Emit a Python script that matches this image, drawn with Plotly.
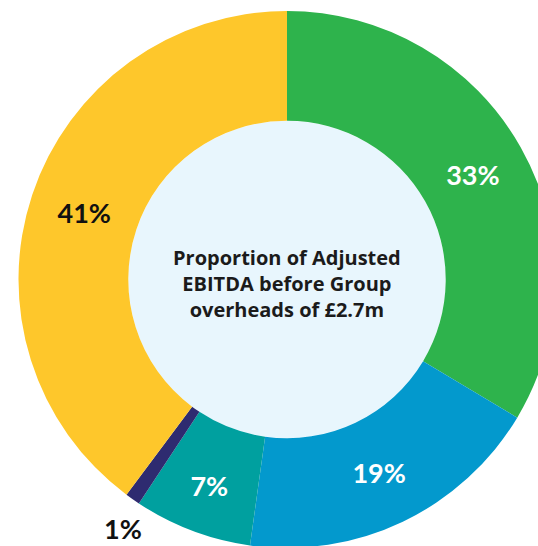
import math
import plotly.graph_objects as go

# Data (clockwise from 12 o'clock)
segments = ["Segment A", "Segment B", "Segment C", "Segment D", "Segment E"]
shares = [33.6, 18.6, 7.1, 0.9, 39.8]
share_labels = ["33%", "19%", "7%", "1%", "41%"]
colors = ["#2EB34C", "#0399CD", "#00A09F", "#2E2B70", "#FEC72B"]
label_colors = ["#FFFFFF", "#FFFFFF", "#FFFFFF", "#111111", "#111111"]
label_positions = ["inside", "inside", "inside", "none", "inside"]
center_text = "Proportion of Adjusted<br>EBITDA before Group<br>overheads of £2.7m"

W, H = 574, 559
R_OUT, R_IN = 268.5, 158.7
LABEL_FONT = "Lato"

fig = go.Figure(
    go.Pie(
        labels=segments,
        values=shares,
        text=share_labels,
        texttemplate="%{text}",
        textposition=label_positions,
        insidetextorientation="horizontal",
        textfont=dict(family=LABEL_FONT, size=27, color=label_colors, weight="bold"),
        marker=dict(colors=colors, line=dict(width=0)),
        hole=R_IN / R_OUT,
        sort=False,
        direction="clockwise",
        rotation=0,
        showlegend=False,
        hoverinfo="label+percent",
        domain=dict(x=[0.5 - R_OUT / W, 0.5 + R_OUT / W],
                    y=[0.5 - R_OUT / H, 0.5 + R_OUT / H]),
    )
)

# outside label for the thin slice, placed along the slice's mid angle
total = sum(shares)
cum = 0.0
for v, lab, pos, col in zip(shares, share_labels, label_positions, label_colors):
    if pos == "none":
        frac = (cum + v / 2) / total
        theta = 2 * math.pi * frac - 0.03
        d = R_OUT * 1.11
        fig.add_annotation(
            x=0.5 + d * math.sin(theta) / W,
            y=0.5 + d * math.cos(theta) / H,
            xref="paper", yref="paper", text=lab, showarrow=False,
            font=dict(family=LABEL_FONT, size=27, color=col, weight="bold"),
            xanchor="center", yanchor="middle",
        )
    cum += v

fig.add_shape(
    type="circle", xref="paper", yref="paper",
    x0=0.5 - R_IN / W, x1=0.5 + R_IN / W,
    y0=0.5 - R_IN / H, y1=0.5 + R_IN / H,
    fillcolor="#E8F6FD", line=dict(width=0), layer="below",
)

fig.add_annotation(
    x=0.5, y=0.5 - 4 / H, xref="paper", yref="paper",
    text=center_text, showarrow=False,
    font=dict(family="Open Sans", size=20, color="#1B1B1B", weight="bold"),
    align="center", xanchor="center", yanchor="middle",
)

fig.update_layout(
    width=W, height=H,
    margin=dict(l=0, r=0, t=0, b=0),
    paper_bgcolor="white",
    plot_bgcolor="white",
)

fig.write_html("out.html")
